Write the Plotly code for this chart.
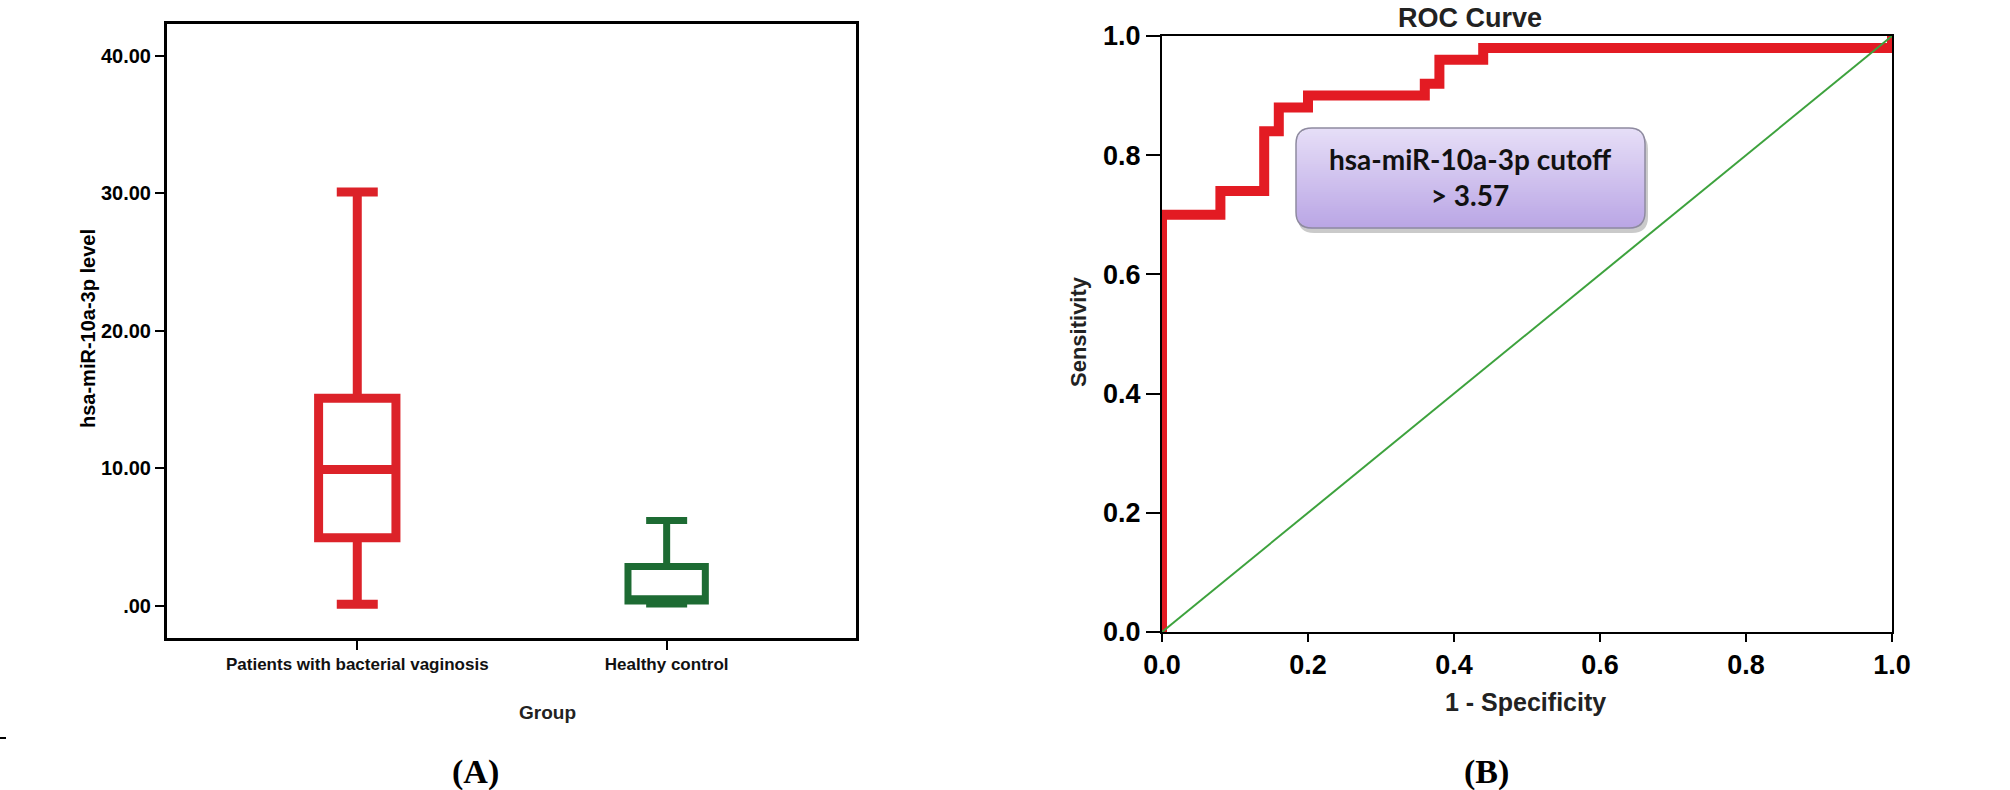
import math
import plotly.graph_objects as go

# ---------------- Data: panel A (box plot) ----------------
groups = ["Patients with bacterial vaginosis", "Healthy control"]
q1 = [4.95, 0.35]
median = [9.9, 0.5]
q3 = [15.1, 2.85]
lower_whisker = [0.1, 0.12]
upper_whisker = [30.1, 6.2]
box_colors = ["#dc2229", "#1d6b33"]
box_line_widths = [9, 7]

y_tick_vals = [0, 10, 20, 30, 40]
y_tick_text = [".00", "10.00", "20.00", "30.00", "40.00"]

# ---------------- Data: panel B (ROC curve) ----------------
roc_fpr = [0.0, 0.0, 0.08, 0.14, 0.16, 0.20, 0.36, 0.38, 0.44, 1.0]
roc_tpr = [0.0, 0.70, 0.74, 0.84, 0.88, 0.90, 0.92, 0.96, 0.98, 1.0]
ref_fpr = [0.0, 1.0]
ref_tpr = [0.0, 1.0]
roc_ticks = [0.0, 0.2, 0.4, 0.6, 0.8, 1.0]
roc_tick_text = ["0.0", "0.2", "0.4", "0.6", "0.8", "1.0"]

W, H = 2010, 790


def px(x):
    return x / W


def py(y):
    return 1 - y / H


SANS = "Liberation Sans, Arial, sans-serif"
SERIF = "Liberation Serif, Times New Roman, serif"

fig = go.Figure()

for i, g in enumerate(groups):
    fig.add_trace(go.Box(
        x=[g], q1=[q1[i]], median=[median[i]], q3=[q3[i]],
        lowerfence=[lower_whisker[i]], upperfence=[upper_whisker[i]],
        width=0.25, whiskerwidth=0.53,
        line=dict(color=box_colors[i], width=box_line_widths[i]),
        fillcolor="rgba(255,255,255,0)", boxpoints=False,
        xaxis="x", yaxis="y", hoverinfo="skip",
    ))

fig.add_trace(go.Scatter(
    x=roc_fpr, y=roc_tpr, mode="lines",
    line=dict(color="#e31b23", width=10, shape="hv"),
    xaxis="x2", yaxis="y2", hoverinfo="skip",
))
fig.add_trace(go.Scatter(
    x=ref_fpr, y=ref_tpr, mode="lines",
    line=dict(color="#3da23d", width=2),
    xaxis="x2", yaxis="y2", hoverinfo="skip",
))

axis_common = dict(showgrid=False, zeroline=False, showline=True, linecolor="black",
                   mirror=True, ticks="outside", tickcolor="black", automargin=False)

fig.update_layout(
    template="none",
    width=W, height=H,
    margin=dict(l=0, r=0, t=0, b=0, pad=0, autoexpand=False),
    paper_bgcolor="white", plot_bgcolor="white",
    showlegend=False,
    xaxis=dict(domain=[px(167), px(856)], anchor="y", type="category",
               categoryorder="array", categoryarray=groups,
               range=[-0.615, 1.612], linewidth=3, ticklen=9, tickwidth=2,
               tickfont=dict(family=SANS, size=17, color="#111", weight="bold"),
               **axis_common),
    yaxis=dict(domain=[py(638), py(24)], anchor="x", range=[-2.35, 42.32],
               tickvals=y_tick_vals, ticktext=y_tick_text,
               linewidth=3, ticklen=9, tickwidth=2,
               tickfont=dict(family=SANS, size=20, color="black", weight="bold"),
               **axis_common),
    xaxis2=dict(domain=[px(1162), px(1892)], anchor="y2", range=[0, 1],
                tickvals=roc_ticks, ticktext=roc_tick_text,
                linewidth=2, ticklen=8, tickwidth=2,
                tickfont=dict(family=SANS, size=27, color="black", weight="bold"),
                **axis_common),
    yaxis2=dict(domain=[py(632), py(36)], anchor="x2", range=[0, 1],
                tickvals=roc_ticks, ticktext=roc_tick_text,
                linewidth=2, ticklen=14, tickwidth=2,
                tickfont=dict(family=SANS, size=27, color="black", weight="bold"),
                **axis_common),
)

# ---------------- Callout box in panel B (rounded, vertical gradient) ----------------
bx0, bx1, by0, by1, br = 1296, 1645, 128, 228, 16


def rounded(x0, y0, x1, y1, r):
    return (f"M {px(x0 + r)} {py(y0)} L {px(x1 - r)} {py(y0)} "
            f"Q {px(x1)} {py(y0)} {px(x1)} {py(y0 + r)} "
            f"L {px(x1)} {py(y1 - r)} Q {px(x1)} {py(y1)} {px(x1 - r)} {py(y1)} "
            f"L {px(x0 + r)} {py(y1)} Q {px(x0)} {py(y1)} {px(x0)} {py(y1 - r)} "
            f"L {px(x0)} {py(y0 + r)} Q {px(x0)} {py(y0)} {px(x0 + r)} {py(y0)} Z")


# drop shadow
fig.add_shape(type="path", xref="paper", yref="paper",
              path=rounded(bx0 + 2, by0 + 5, bx1 + 3, by1 + 5, br),
              fillcolor="rgba(80,80,80,0.30)", line=dict(width=0), layer="above")

top_rgb = (230, 222, 247)
bot_rgb = (186, 166, 229)
step = 2
n = int((by1 - by0) / step)
for k in range(n):
    ya = by0 + k * step
    yb = ya + step
    ym = (ya + yb) / 2
    d = min(ym - by0, by1 - ym)
    inset = 0.0
    if d < br:
        inset = br - math.sqrt(max(br * br - (br - d) ** 2, 0.0))
    t = k / max(n - 1, 1)
    c = tuple(int(round(top_rgb[j] + (bot_rgb[j] - top_rgb[j]) * t)) for j in range(3))
    fig.add_shape(type="rect", xref="paper", yref="paper",
                  x0=px(bx0 + inset), x1=px(bx1 - inset), y0=py(yb + 0.5), y1=py(ya),
                  fillcolor=f"rgb{c}", line=dict(width=0), layer="above")

fig.add_shape(type="path", xref="paper", yref="paper",
              path=rounded(bx0, by0, bx1, by1, br),
              fillcolor="rgba(0,0,0,0)", line=dict(color="#8e8aa0", width=1.5), layer="above")

# small stray mark at far left
fig.add_shape(type="line", xref="paper", yref="paper",
              x0=px(0), x1=px(6), y0=py(738), y1=py(738),
              line=dict(color="black", width=2))

annotations = [
    dict(text="hsa-miR-10a-3p level", x=px(88), y=py(329), textangle=-90,
         font=dict(family=SANS, size=20, color="black", weight="bold")),
    dict(text="Group", x=px(547), y=py(712),
         font=dict(family=SANS, size=19, color="#222", weight="bold")),
    dict(text="(A)", x=px(475), y=py(772),
         font=dict(family=SERIF, size=34, color="black", weight="bold")),
    dict(text="ROC Curve", x=px(1470), y=py(18),
         font=dict(family=SANS, size=27, color="#222", weight="bold")),
    dict(text="Sensitivity", x=px(1078), y=py(332), textangle=-90,
         font=dict(family=SANS, size=22, color="#222", weight="bold")),
    dict(text="1 - Specificity", x=px(1525), y=py(702),
         font=dict(family=SANS, size=25, color="#222", weight="bold")),
    dict(text="(B)", x=px(1486), y=py(772),
         font=dict(family=SERIF, size=34, color="black", weight="bold")),
    dict(text="hsa-miR-10a-3p cutoff<br>> 3.57", x=px(1470), y=py(177),
         font=dict(family="Lato, Open Sans, sans-serif", size=28, color="#111", weight="bold")),
]
for a in annotations:
    fig.add_annotation(xref="paper", yref="paper", showarrow=False,
                       xanchor="center", yanchor="middle", **a)

fig.write_html(
    "out.html",
    config={"displayModeBar": False, "responsive": False},
    post_script="document.body.style.margin='0';document.body.style.overflow='hidden';",
)
